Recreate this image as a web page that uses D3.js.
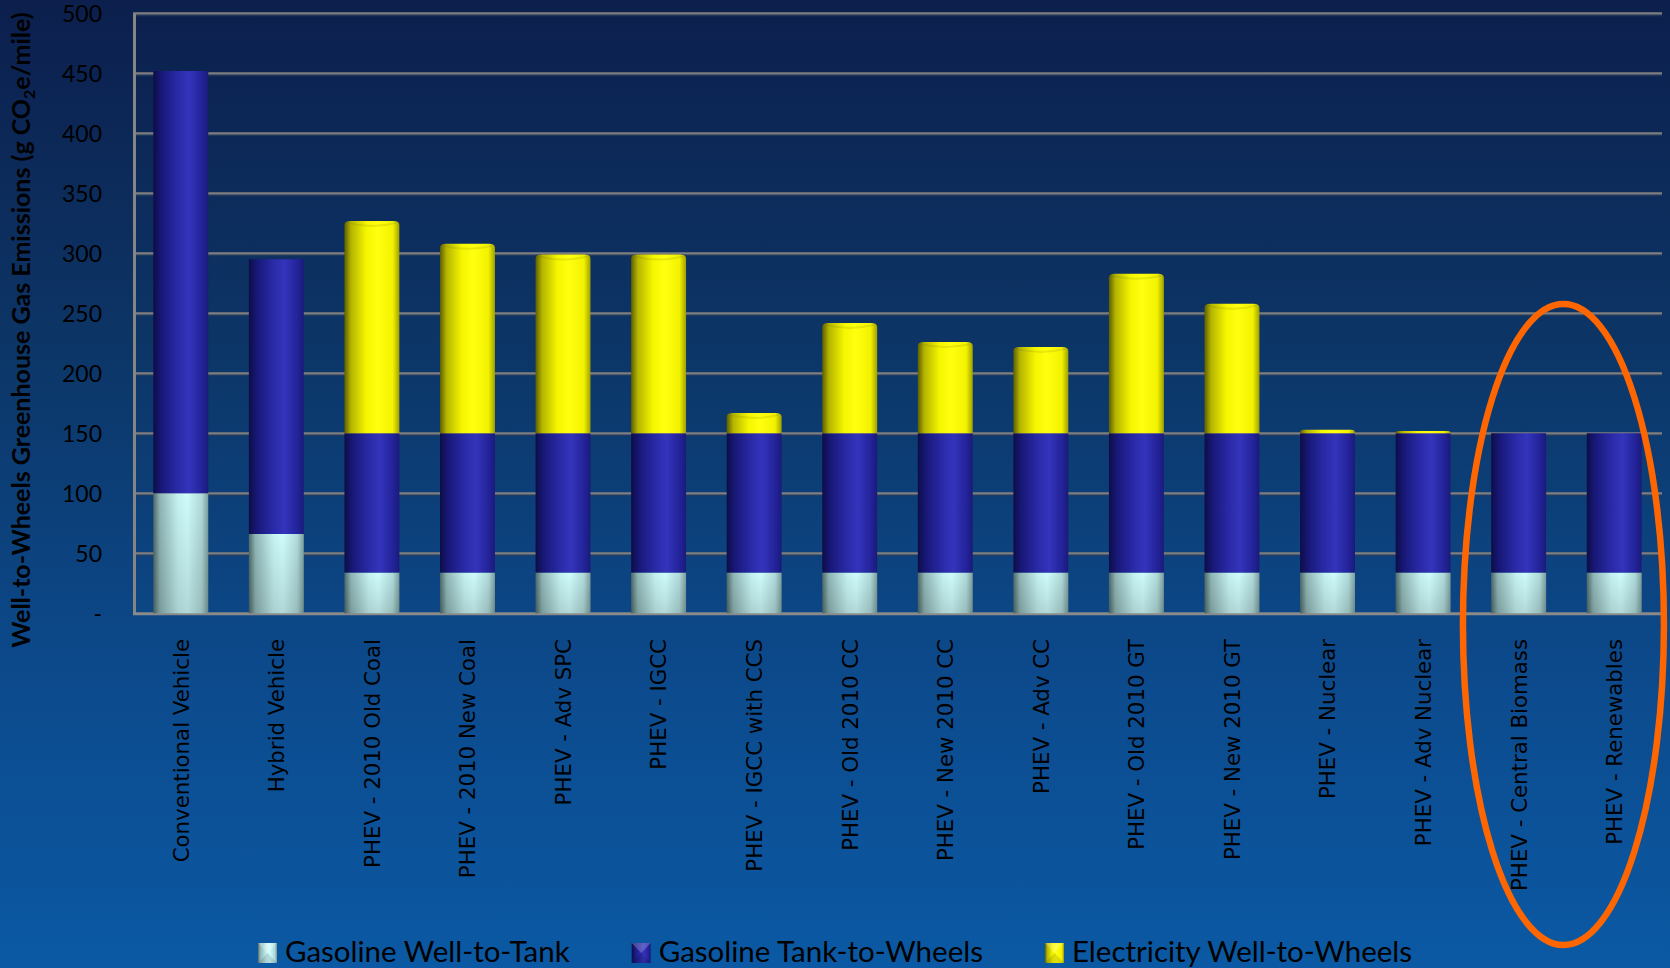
<!DOCTYPE html>
<html>
<head>
<meta charset="utf-8">
<script src="https://cdn.jsdelivr.net/npm/d3@7"></script>
<style>
  html, body { margin: 0; padding: 0; overflow: hidden; }
  svg { display: block; }
</style>
</head>
<body>
<svg id="chart" width="1670" height="968"></svg>
<script>
// Vehicle / power-source pathways
const categories = [
  "Conventional Vehicle", "Hybrid Vehicle", "PHEV - 2010 Old Coal", "PHEV - 2010 New Coal",
  "PHEV - Adv SPC", "PHEV - IGCC", "PHEV - IGCC with CCS", "PHEV - Old 2010 CC",
  "PHEV - New 2010 CC", "PHEV - Adv CC", "PHEV - Old 2010 GT", "PHEV - New 2010 GT",
  "PHEV - Nuclear", "PHEV - Adv Nuclear", "PHEV - Central Biomass", "PHEV - Renewables"
];

// Emissions components, g CO2e per mile
const gasolineWellToTank   = [100, 66, 34, 34, 34, 34, 34, 34, 34, 34, 34, 34, 34, 34, 34, 34];
const gasolineTankToWheels = [352, 229, 116, 116, 116, 116, 116, 116, 116, 116, 116, 116, 116, 116, 116, 116];
const electricityWellToWheels = [0, 0, 177, 158, 149, 149, 17, 92, 76, 72, 133, 108, 3, 2, 0, 0];

const seriesNames = ["Gasoline Well-to-Tank", "Gasoline Tank-to-Wheels", "Electricity Well-to-Wheels"];
const yTicks = [0, 50, 100, 150, 200, 250, 300, 350, 400, 450, 500];
const highlighted = ["PHEV - Central Biomass", "PHEV - Renewables"];

const W = 1670, H = 968;
const plot = { left: 133, right: 1662, top: 13.3, bottom: 613.3 };

const svg = d3.select("#chart");
const defs = svg.append("defs");

// page background: navy at the top fading to mid blue
const bg = defs.append("linearGradient").attr("id", "bg").attr("x1", 0).attr("y1", 0).attr("x2", 0).attr("y2", 1);
bg.append("stop").attr("offset", 0).attr("stop-color", "#0c1f4d");
bg.append("stop").attr("offset", 0.35).attr("stop-color", "#0c3566");
bg.append("stop").attr("offset", 0.7).attr("stop-color", "#0c4a8c");
bg.append("stop").attr("offset", 1).attr("stop-color", "#0b59a4");
svg.append("rect").attr("width", W).attr("height", H).attr("fill", "url(#bg)");

// cylinder shading for each series
const shades = {
  wtt:  [[0, "#4f6a6a"], [0.12, "#8fb5b5"], [0.45, "#c6f2f2"], [0.62, "#cffcfc"], [0.88, "#b0dada"], [1, "#7d9e9e"]],
  ttw:  [[0, "#0d0d48"], [0.15, "#181878"], [0.45, "#2a2aa8"], [0.65, "#3434bc"], [0.88, "#23239a"], [1, "#1a1a7a"]],
  elec: [[0, "#5e5e00"], [0.12, "#b4b400"], [0.4, "#f6f600"], [0.6, "#ffff10"], [0.88, "#f2f200"], [1, "#a0a000"]]
};
const keys = ["wtt", "ttw", "elec"];
keys.forEach(k => {
  const g = defs.append("linearGradient").attr("id", "g-" + k).attr("x1", 0).attr("x2", 1).attr("y1", 0).attr("y2", 0);
  shades[k].forEach(([o, c]) => g.append("stop").attr("offset", o).attr("stop-color", c));
});
// subtle vertical darkening toward the floor
const vshade = defs.append("linearGradient").attr("id", "vshade").attr("x1", 0).attr("x2", 0).attr("y1", 0).attr("y2", 1);
vshade.append("stop").attr("offset", 0).attr("stop-color", "#000").attr("stop-opacity", 0);
vshade.append("stop").attr("offset", 1).attr("stop-color", "#000").attr("stop-opacity", 0.14);

const x = d3.scaleBand().domain(categories).range([plot.left, plot.right])
  .paddingInner(0.425).paddingOuter(0.2125);
const y = d3.scaleLinear().domain([0, 500]).range([plot.bottom, plot.top]);

// gridlines
const grid = svg.append("g");
yTicks.filter(t => t > 0).forEach(t => {
  grid.append("line").attr("x1", plot.left).attr("x2", plot.right)
    .attr("y1", y(t) + 2).attr("y2", y(t) + 2)
    .attr("stroke", "#2a3d5e").attr("stroke-opacity", 0.7).attr("stroke-width", 2);
  grid.append("line").attr("x1", plot.left).attr("x2", plot.right)
    .attr("y1", y(t)).attr("y2", y(t))
    .attr("stroke", "#7f7f7f").attr("stroke-width", 2.2);
});

// axes lines
svg.append("line").attr("x1", plot.left + 1.5).attr("x2", plot.left + 1.5)
  .attr("y1", y(500)).attr("y2", y(0) + 1)
  .attr("stroke", "#858585").attr("stroke-width", 3);
svg.append("line").attr("x1", plot.left).attr("x2", plot.right)
  .attr("y1", y(0) + 0.5).attr("y2", y(0) + 0.5)
  .attr("stroke", "#8a8a8a").attr("stroke-width", 3);

// y axis
const yAxis = d3.axisLeft(y).tickValues(yTicks).tickSize(0).tickPadding(0)
  .tickFormat(d => d === 0 ? "-" : d);
const yg = svg.append("g").attr("transform", `translate(102,0)`).call(yAxis);
yg.select(".domain").remove();
yg.selectAll("text").attr("fill", "#000").attr("font-family", "Lato, 'Open Sans', sans-serif")
  .attr("font-size", 23).attr("dy", "0.36em");

// y axis title
const yt = svg.append("text").attr("transform", "translate(30,330) rotate(-90)")
  .attr("text-anchor", "middle").attr("fill", "#000")
  .attr("font-family", "Lato, 'Open Sans', sans-serif").attr("font-weight", 700).attr("font-size", 25);
yt.append("tspan").text("Well-to-Wheels Greenhouse Gas Emissions (g CO");
yt.append("tspan").attr("font-size", 16).attr("dy", "0.3em").text("2");
yt.append("tspan").attr("dy", "-0.2em").text("e/mile)");

// stacked bars
const rows = categories.map((c, i) => ({
  category: c, wtt: gasolineWellToTank[i], ttw: gasolineTankToWheels[i], elec: electricityWellToWheels[i]
}));
const stack = d3.stack().keys(keys)(rows);

// electricity segments end in a rounded cylinder cap; gasoline tops are flat
function segPath(x0, w, yTop, yBot, rounded) {
  if (!rounded) return `M${x0},${yBot}V${yTop}H${x0 + w}V${yBot}Z`;
  const r = Math.min(6, (yBot - yTop));
  const ry = Math.min(4, (yBot - yTop) / 1.2);
  return `M${x0},${yBot}V${yTop + ry}Q${x0},${yTop} ${x0 + r},${yTop}` +
         `H${x0 + w - r}Q${x0 + w},${yTop} ${x0 + w},${yTop + ry}V${yBot}Z`;
}

const bars = svg.append("g");
stack.forEach(layer => {
  const k = layer.key;
  layer.forEach((d, i) => {
    if (d[1] - d[0] <= 0) return;
    const x0 = x(categories[i]), w = x.bandwidth();
    const p = segPath(x0, w, y(d[1]), y(d[0]), k === "elec");
    bars.append("path").attr("d", p).attr("fill", `url(#g-${k})`);
    if (k === "wtt") bars.append("path").attr("d", p).attr("fill", "url(#vshade)");
    if (k === "elec" && y(d[0]) - y(d[1]) > 8) {
      bars.append("path")
        .attr("d", `M${x0 + 3},${y(d[1]) + 2}Q${x0 + w / 2},${y(d[1]) + 8} ${x0 + w - 3},${y(d[1]) + 2}`)
        .attr("fill", "none").attr("stroke", "#6a6a00").attr("stroke-opacity", 0.15).attr("stroke-width", 2);
    }
  });
});

// category labels
const xg = svg.append("g");
categories.forEach(c => {
  xg.append("text")
    .attr("transform", `translate(${x(c) + x.bandwidth() / 2},639) rotate(-90)`)
    .attr("dy", "0.37em").attr("text-anchor", "end").attr("fill", "#000")
    .attr("font-family", "'DejaVu Sans', Verdana, sans-serif").attr("font-size", 21.3)
    .text(c);
});

// legend, centred on the page
const legend = svg.append("g");
const items = [];
seriesNames.forEach((name, i) => {
  const g = legend.append("g");
  const k = keys[i];
  g.append("rect").attr("x", 0).attr("y", -19).attr("width", 19).attr("height", 20).attr("fill", `url(#g-${k})`);
  // bevelled key: light top/bottom facets
  g.append("path").attr("d", "M0,-19H19L9.5,-9Z").attr("fill", "#fff").attr("fill-opacity", 0.22);
  g.append("path").attr("d", "M0,1H19L9.5,-9Z").attr("fill", "#000").attr("fill-opacity", 0.12);
  const t = g.append("text").attr("x", 27).attr("y", 0).attr("fill", "#000")
    .attr("font-family", "Lato, 'Open Sans', sans-serif").attr("font-size", 29.5).text(name);
  items.push({ g, w: 27 + t.node().getComputedTextLength() });
});
const gap = 62;
const total = d3.sum(items, d => d.w) + gap * (items.length - 1);
let lx = W / 2 - total / 2;
items.forEach(it => { it.g.attr("transform", `translate(${lx},962)`); lx += it.w + gap; });

// highlight ring around the zero-electricity-emission pathways
const hx0 = x(highlighted[0]) + x.bandwidth() / 2;
const hx1 = x(highlighted[1]) + x.bandwidth() / 2;
svg.append("ellipse")
  .attr("cx", (hx0 + hx1) / 2 - 3).attr("cy", 624.5)
  .attr("rx", 100.5).attr("ry", 320.5)
  .attr("fill", "none").attr("stroke", "#ff6600").attr("stroke-width", 6.5);
</script>
</body>
</html>
